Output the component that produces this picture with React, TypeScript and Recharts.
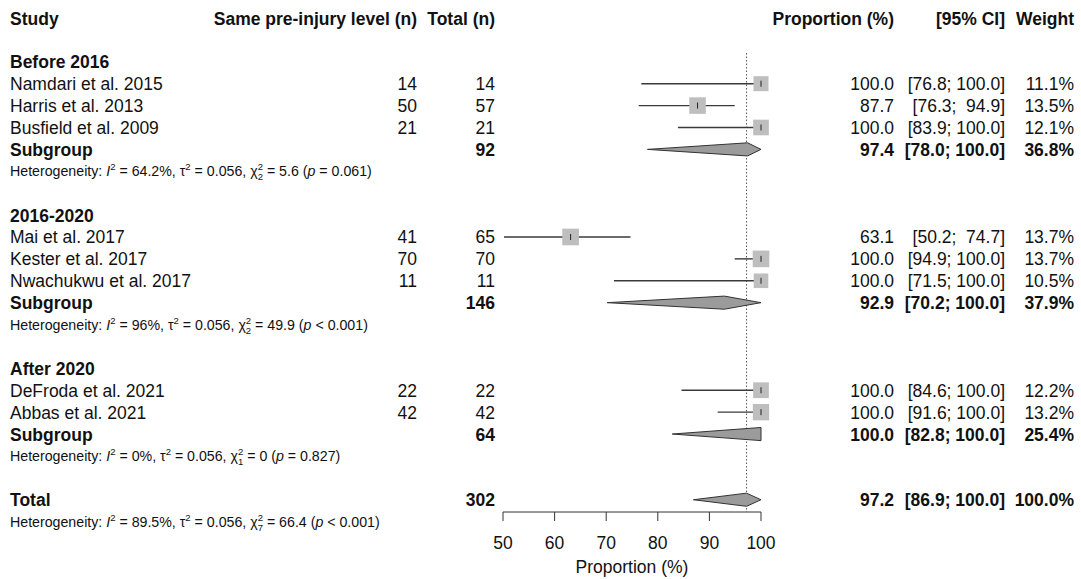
import React from "react";
import {
  ComposedChart,
  ErrorBar,
  ReferenceLine,
  Scatter,
  XAxis,
  YAxis,
} from "recharts";

const FONT = "'Liberation Sans', Arial, Helvetica, sans-serif";
const INK = "#111";

// individual studies
const studyNames = [
  "Namdari et al. 2015",
  "Harris et al. 2013",
  "Busfield et al. 2009",
  "Mai et al. 2017",
  "Kester et al. 2017",
  "Nwachukwu et al. 2017",
  "DeFroda et al. 2021",
  "Abbas et al. 2021",
];
const studyRows = [3, 4, 5, 10, 11, 12, 17, 18];
const sameLevel = [14, 50, 21, 41, 70, 11, 22, 42];
const totalN = [14, 57, 21, 65, 70, 11, 22, 42];
const studyEst = [100, 87.7, 100, 63.1, 100, 100, 100, 100];
const studyLower = [76.8, 76.3, 83.9, 50.2, 94.9, 71.5, 84.6, 91.6];
const studyUpper = [100, 94.9, 100, 74.7, 100, 100, 100, 100];
const studyWeight = [11.1, 13.5, 12.1, 13.7, 13.7, 10.5, 12.2, 13.2];

// subgroups + total
const groupNames = ["Before 2016", "2016-2020", "After 2020"];
const groupRows = [2, 9, 16];
const pooledLabels = ["Subgroup", "Subgroup", "Subgroup", "Total"];
const pooledRows = [6, 13, 19, 22];
const pooledN = [92, 146, 64, 302];
const pooledEst = [97.4, 92.9, 100, 97.2];
const pooledLower = [78.0, 70.2, 82.8, 86.9];
const pooledUpper = [100, 100, 100, 100];
const pooledWeight = [36.8, 37.9, 25.4, 100];

// heterogeneity lines
const hetRows = [7, 14, 20, 23];
const hetI2 = ["64.2%", "96%", "0%", "89.5%"];
const hetTau2 = ["0.056", "0.056", "0.056", "0.056"];
const hetDf = ["2", "2", "1", "7"];
const hetChi2 = ["5.6", "49.9", "0", "66.4"];
const hetP = ["= 0.061", "< 0.001", "= 0.827", "< 0.001"];

const xTicks = [50, 60, 70, 80, 90, 100];
const rowTicks = Array.from({ length: 24 }, (_, i) => i);
const overallEst = pooledEst[3];

const AXIS_ROW = 22.56;
const DIAMOND_HALF = 0.3;

const fmt = (v: number) => v.toFixed(1);
const fmtCI = (lo: number, hi: number) =>
  `[${fmt(lo).padStart(4, " ")}; ${fmt(hi).padStart(5, " ")}]`;

const studyData = studyNames.map((name, i) => ({
  x: studyEst[i],
  y: studyRows[i],
  err: [studyEst[i] - studyLower[i], studyUpper[i] - studyEst[i]],
  weight: studyWeight[i],
  name,
}));

const diamondData = pooledEst.map((est, i) => {
  const r = pooledRows[i];
  return [
    { x: pooledLower[i], y: r },
    { x: est, y: r - DIAMOND_HALF },
    { x: pooledUpper[i], y: r },
    { x: est, y: r + DIAMOND_HALF },
  ];
});

type Cell = { text: string; x: number; anchor: "start" | "end"; bold?: boolean };

const COL_STUDY = 10;
const COL_SAME = 417;
const COL_TOTAL = 495;
const COL_PROP = 894;
const COL_CI = 1005;
const COL_W = 1074;

const rowCells: Record<number, Cell[]> = {
  0: [
    { text: "Study", x: COL_STUDY, anchor: "start", bold: true },
    { text: "Same pre-injury level (n)", x: COL_SAME, anchor: "end", bold: true },
    { text: "Total (n)", x: COL_TOTAL, anchor: "end", bold: true },
    { text: "Proportion (%)", x: COL_PROP, anchor: "end", bold: true },
    { text: "[95% CI]", x: COL_CI, anchor: "end", bold: true },
    { text: "Weight", x: COL_W, anchor: "end", bold: true },
  ],
};
groupNames.forEach((g, i) => {
  rowCells[groupRows[i]] = [{ text: g, x: COL_STUDY, anchor: "start", bold: true }];
});
studyNames.forEach((n, i) => {
  rowCells[studyRows[i]] = [
    { text: n, x: COL_STUDY, anchor: "start" },
    { text: String(sameLevel[i]), x: COL_SAME, anchor: "end" },
    { text: String(totalN[i]), x: COL_TOTAL, anchor: "end" },
    { text: fmt(studyEst[i]), x: COL_PROP, anchor: "end" },
    { text: fmtCI(studyLower[i], studyUpper[i]), x: COL_CI, anchor: "end" },
    { text: `${fmt(studyWeight[i])}%`, x: COL_W, anchor: "end" },
  ];
});
pooledLabels.forEach((l, i) => {
  rowCells[pooledRows[i]] = [
    { text: l, x: COL_STUDY, anchor: "start", bold: true },
    { text: String(pooledN[i]), x: COL_TOTAL, anchor: "end", bold: true },
    { text: fmt(pooledEst[i]), x: COL_PROP, anchor: "end", bold: true },
    { text: fmtCI(pooledLower[i], pooledUpper[i]), x: COL_CI, anchor: "end", bold: true },
    { text: `${fmt(pooledWeight[i])}%`, x: COL_W, anchor: "end", bold: true },
  ];
});

function Heterogeneity({ y, k }: { y: number; k: number }) {
  return (
    <text x={COL_STUDY} y={y} dy={5} fontSize={14.2} fill={INK} fontFamily={FONT}>
      {"Heterogeneity: "}
      <tspan fontStyle="italic">I</tspan>
      <tspan fontSize={9.5} dy={-6}>2</tspan>
      <tspan dy={6}>{` = ${hetI2[k]}, \u03c4`}</tspan>
      <tspan fontSize={9.5} dy={-6}>2</tspan>
      <tspan dy={6}>{` = ${hetTau2[k]}, \u03c7`}</tspan>
      <tspan fontSize={9.5} dy={-6}>2</tspan>
      <tspan fontSize={9.5} dx={-5.3} dy={10}>{hetDf[k]}</tspan>
      <tspan dy={-4}>{` = ${hetChi2[k]} (`}</tspan>
      <tspan fontStyle="italic">p</tspan>
      <tspan>{` ${hetP[k]})`}</tspan>
    </text>
  );
}

function RowTick(props: any) {
  const { y, payload } = props;
  const row = payload.value as number;
  const h = hetRows.indexOf(row);
  if (h >= 0) return <Heterogeneity y={y} k={h} />;
  const cells = rowCells[row];
  if (!cells) return <g />;
  return (
    <g>
      {cells.map((c, i) => (
        <text
          key={i}
          x={c.x}
          y={y}
          dy={6.5}
          textAnchor={c.anchor}
          fontSize={17.5}
          fontWeight={c.bold ? "bold" : "normal"}
          fill={INK}
          fontFamily={FONT}
          style={{ whiteSpace: "pre" }}
        >
          {c.text}
        </text>
      ))}
    </g>
  );
}

const Square = (p: any) => {
  const s = 4.5 * Math.sqrt(p.payload.weight);
  return <rect x={p.cx - s / 2} y={p.cy - s / 2} width={s} height={s} fill="#bebebe" />;
};

const EstTick = (p: any) => (
  <line x1={p.cx} x2={p.cx} y1={p.cy - 3} y2={p.cy + 3} stroke="#222" strokeWidth={1} />
);

const diamondLine = (lp: any) => (
  <polygon
    points={lp.points.map((pt: any) => `${pt.x},${pt.y}`).join(" ")}
    fill="#9b9b9b"
    stroke="#333"
    strokeWidth={1}
  />
);

export default function App() {
  return (
    <div style={{ position: "absolute", left: 0, top: 0, background: "#fff" }}>
      <ComposedChart
        width={1081}
        height={579}
        margin={{ top: 18, right: 320, bottom: 0, left: 502 }}
      >
        <XAxis
          type="number"
          dataKey="x"
          domain={[50, 100]}
          ticks={xTicks}
          interval={0}
          height={67}
          tickSize={9}
          tickMargin={16}
          stroke="#333"
          tick={{ fill: INK, fontSize: 17.5, fontFamily: FONT }}
          label={{
            value: "Proportion (%)",
            position: "insideBottom",
            offset: 6,
            fill: INK,
            fontSize: 17.5,
            fontFamily: FONT,
          }}
        />
        <YAxis
          type="number"
          dataKey="y"
          domain={[0, AXIS_ROW]}
          reversed
          ticks={rowTicks}
          interval={0}
          width={1}
          axisLine={false}
          tickLine={false}
          tick={<RowTick />}
        />
        <ReferenceLine
          segment={[
            { x: overallEst, y: 1.6 },
            { x: overallEst, y: AXIS_ROW },
          ]}
          stroke="#555"
          strokeDasharray="1.5 2"
        />
        <Scatter data={studyData} shape={<Square />} isAnimationActive={false} />
        <Scatter data={studyData} shape={<EstTick />} isAnimationActive={false}>
          <ErrorBar
            dataKey="err"
            direction="x"
            width={0}
            stroke="#3a3a3a"
            strokeWidth={1.4}
            isAnimationActive={false}
          />
        </Scatter>
        {diamondData.map((d, i) => (
          <Scatter
            key={i}
            data={d}
            line={diamondLine}
            lineType="joint"
            shape={() => <g />}
            isAnimationActive={false}
          />
        ))}
      </ComposedChart>
    </div>
  );
}
